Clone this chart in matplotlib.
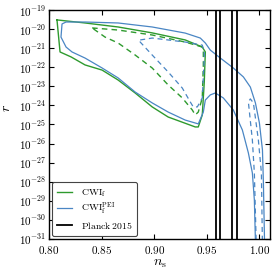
import numpy as np
import matplotlib
matplotlib.use("Agg")
import matplotlib.pyplot as plt
from matplotlib.ticker import FixedLocator, FuncFormatter, NullLocator

plt.rcParams['mathtext.fontset'] = 'cm'
plt.rcParams['font.family'] = 'serif'
plt.rcParams['font.serif'] = ['DejaVu Serif']

# colours
GREEN = '#2e9a2e'
BLUE = '#4a86c4'

# CWI_f, solid contour (n_s, log10 r)
cwi_ns = [0.8076, 0.8343, 0.8657, 0.8981, 0.9295, 0.9457, 0.9486, 0.9476, 0.9457,
          0.9419, 0.9390, 0.9133, 0.8981, 0.8819, 0.8657, 0.8505, 0.8343, 0.8210,
          0.8105, 0.8076]
cwi_logr = [-19.52, -19.68, -19.89, -20.20, -20.57, -20.94, -21.20, -22.77, -24.50,
            -25.13, -25.13, -24.61, -24.08, -23.35, -22.67, -22.15, -21.88, -21.46,
            -21.20, -19.52]

# CWI_f, dashed contour
cwi_d_ns = [0.8410, 0.8657, 0.8981, 0.9295, 0.9457, 0.9467, 0.9467, 0.9457, 0.9419,
            0.9390, 0.9362, 0.9267, 0.9133, 0.8981, 0.8819, 0.8657, 0.8533, 0.8410]
cwi_d_logr = [-19.94, -20.05, -20.31, -20.68, -20.94, -21.20, -21.88, -23.61, -24.35,
              -24.50, -24.24, -23.61, -22.93, -22.04, -21.36, -20.73, -20.42, -19.94]

# CWI_f^PEI, solid (open, runs off the bottom)
pei_ns = [1.0050, 1.0038, 1.0029, 1.0000, 0.9962, 0.9914, 0.9848, 0.9752, 0.9629,
          0.9533, 0.9486, 0.9438, 0.9295, 0.8981, 0.8657, 0.8343, 0.8162, 0.8124,
          0.8114, 0.8162, 0.8219, 0.8343, 0.8505, 0.8657, 0.8819, 0.8981, 0.9133,
          0.9295, 0.9419, 0.9467, 0.9486, 0.9533, 0.9581, 0.9657, 0.9752, 0.9838,
          0.9895, 0.9933, 0.9952, 0.9964]
pei_logr = [-31.5, -28.07, -26.34, -24.92, -23.87, -23.04, -22.51, -22.04, -21.52,
            -21.10, -20.73, -20.47, -20.21, -19.89, -19.68, -19.63, -19.63, -19.73,
            -20.42, -20.94, -21.20, -21.52, -22.04, -22.56, -23.30, -23.87, -24.35,
            -24.77, -24.97, -24.35, -23.72, -23.45, -23.35, -23.61, -24.24, -25.29,
            -26.49, -27.54, -28.96, -31.5]

# CWI_f^PEI, dashed triangle
pei_d_ns = [0.8867, 0.8981, 0.9295, 0.9457, 0.9476, 0.9476, 0.9457, 0.9410, 0.9371,
            0.9343, 0.9267, 0.9133, 0.8981, 0.8867, 0.8867]
pei_d_logr = [-20.57, -20.47, -20.68, -20.84, -21.20, -21.52, -23.61, -24.08, -24.08,
              -23.82, -23.09, -22.25, -21.36, -20.68, -20.57]

# CWI_f^PEI, dashed branch near n_s = 1
pei_d2_ns = [0.9971, 0.9952, 0.9933, 0.9895, 0.9914, 0.9943, 0.9990, 1.0019, 1.0029]
pei_d2_logr = [-31.5, -27.54, -25.81, -23.82, -23.66, -23.87, -25.81, -27.54, -31.5]

# Planck 2015 bounds on n_s
planck_ns = [0.959, 0.963, 0.974, 0.979]

fig = plt.figure(figsize=(2.76, 2.74), dpi=100)
ax = fig.add_axes([0.1775, 0.128, 0.8005, 0.8355])

ax.plot(cwi_ns, 10.0**np.array(cwi_logr), color=GREEN, lw=1.0, label=r'$\mathrm{CWI_f}$')
ax.plot(cwi_d_ns, 10.0**np.array(cwi_d_logr), color=GREEN, lw=1.0, ls=(0, (4, 3)))
ax.plot(pei_ns, 10.0**np.array(pei_logr), color=BLUE, lw=0.9, label=r'$\mathrm{CWI_f^{PEI}}$')
ax.plot(pei_d_ns, 10.0**np.array(pei_d_logr), color=BLUE, lw=0.9, ls=(0, (4, 3)))
ax.plot(pei_d2_ns, 10.0**np.array(pei_d2_logr), color=BLUE, lw=0.9, ls=(0, (4, 3)))
for i, x in enumerate(planck_ns):
    ax.axvline(x, color='black', lw=1.3, label=r'$\mathrm{Planck\,2015}$' if i == 0 else None)

ax.set_yscale('log')
ax.set_xlim(0.80, 1.01)
ax.set_ylim(1e-31, 1e-19)
ax.xaxis.set_major_locator(FixedLocator([0.80, 0.85, 0.90, 0.95, 1.00]))
ax.xaxis.set_major_formatter(FuncFormatter(lambda v, p: r'$%.2f$' % v))
ax.yaxis.set_major_locator(FixedLocator(10.0**np.arange(-31, -18)))
ax.yaxis.set_major_formatter(FuncFormatter(lambda v, p: r'$10^{{-}%d}$' % round(-np.log10(v))))
ax.yaxis.set_minor_locator(NullLocator())
ax.tick_params(which='both', direction='in', top=True, right=True, labelsize=8, length=3.5, width=0.8)
ax.tick_params(axis='y', pad=2)
ax.tick_params(axis='x', pad=4)
for s in ax.spines.values():
    s.set_linewidth(1.0)

ax.set_xlabel(r'$n_\mathrm{s}$', fontsize=10, labelpad=0)
ax.set_ylabel(r'$r$', fontsize=10)
ax.yaxis.set_label_coords(-0.165, 0.57)

leg = ax.legend(loc='lower left', fontsize=7, handlelength=1.5, handletextpad=0.9,
                borderaxespad=0.35, labelspacing=0.25, borderpad=0.5,
                fancybox=True, framealpha=1)
leg.get_frame().set_edgecolor('#444444')
leg.get_frame().set_linewidth(0.8)

fig.savefig('out.png', dpi=100)
